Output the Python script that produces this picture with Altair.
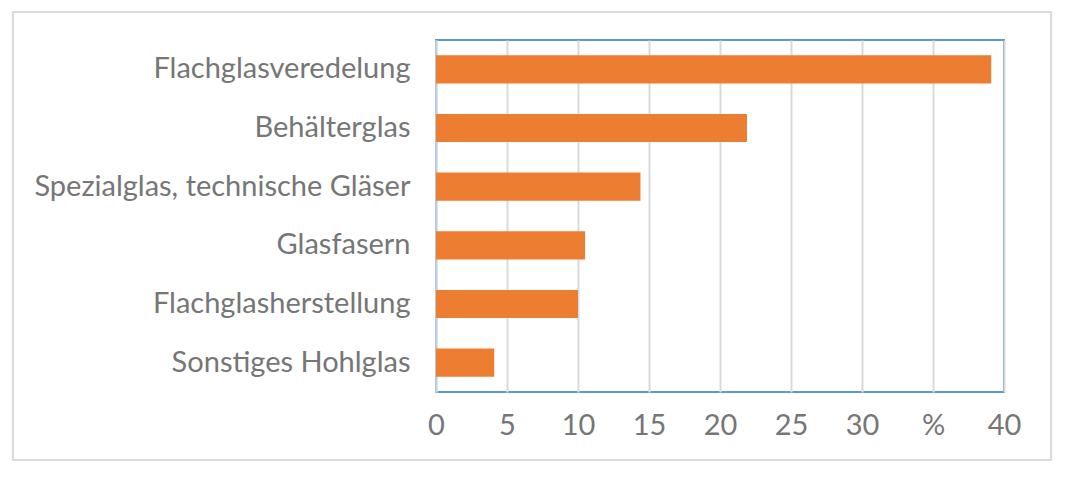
import altair as alt
import pandas as pd

categories = ["Flachglasveredelung", "Behälterglas", "Spezialglas, technische Gläser",
              "Glasfasern", "Flachglasherstellung", "Sonstiges Hohlglas"]
values = [39.1, 21.9, 14.4, 10.5, 10.0, 4.1]

df = pd.DataFrame({"Kategorie": categories, "Wert": values})

FONT = "Lato"
GRAY = "#767676"
FS = 29

bars = alt.Chart(df).mark_bar(color="#ED7D31").encode(
    x=alt.X("Wert:Q", scale=alt.Scale(domain=[0, 40], nice=False),
            axis=alt.Axis(values=[0, 5, 10, 15, 20, 25, 30, 35, 40],
                          labelExpr="datum.value == 35 ? '%' : datum.label",
                          title=None, grid=True, gridColor="#d9d9d9", gridWidth=2,
                          domain=False, ticks=False, labelPadding=19, labelFlush=False,
                          labelFont=FONT, labelFontSize=FS, labelColor=GRAY)),
    y=alt.Y("Kategorie:N", sort=None,
            scale=alt.Scale(paddingInner=0.52, paddingOuter=0.26),
            axis=alt.Axis(title=None, ticks=False, domain=True, domainColor="#c3d3e3",
                          domainWidth=2, labelPadding=26, labelFont=FONT,
                          labelFontSize=FS, labelColor=GRAY, labelLimit=500)),
)

frame = alt.Chart(df).mark_rect(fill=None, stroke="#d9d9d9", strokeWidth=2).encode(
    x=alt.value(-423), x2=alt.value(615), y=alt.value(-28), y2=alt.value(420)
)

chart = alt.layer(frame, bars).properties(
    width=568, height=352,
    autosize=alt.AutoSizeParams(type="none"),
    padding={"left": 428, "top": 32, "right": 55, "bottom": 75},
).configure(background="white").configure_view(stroke="#5B9BD5", strokeWidth=2)

chart.save("out.html", embed_options={"renderer": "svg", "actions": False})
